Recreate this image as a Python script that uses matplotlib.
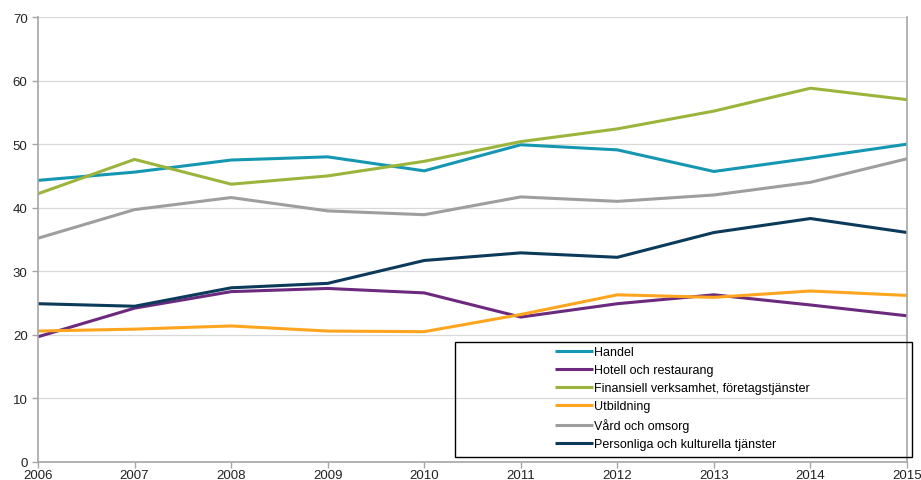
import matplotlib.pyplot as plt
from matplotlib.patches import Rectangle

plt.rcParams['font.family'] = ['Liberation Sans', 'DejaVu Sans']

years = [2006, 2007, 2008, 2009, 2010, 2011, 2012, 2013, 2014, 2015]

handel = [44.3, 45.6, 47.5, 48.0, 45.8, 49.9, 49.1, 45.7, 47.8, 50.0]
hotell = [19.7, 24.2, 26.8, 27.3, 26.6, 22.8, 24.9, 26.3, 24.7, 23.0]
finans = [42.2, 47.6, 43.7, 45.0, 47.3, 50.4, 52.4, 55.2, 58.8, 57.0]
utbildning = [20.6, 20.9, 21.4, 20.6, 20.5, 23.2, 26.3, 25.9, 26.9, 26.2]
vard = [35.2, 39.7, 41.6, 39.5, 38.9, 41.7, 41.0, 42.0, 44.0, 47.7]
personliga = [24.9, 24.5, 27.4, 28.1, 31.7, 32.9, 32.2, 36.1, 38.3, 36.1]

series = [
    ('Handel', handel, '#1597B2'),
    ('Hotell och restaurang', hotell, '#6B2A7E'),
    ('Finansiell verksamhet, företagstjänster', finans, '#9BB53C'),
    ('Utbildning', utbildning, '#FDA51E'),
    ('Vård och omsorg', vard, '#9E9E9E'),
    ('Personliga och kulturella tjänster', personliga, '#0B3A5A'),
]

fig = plt.figure(figsize=(9.21, 4.81), dpi=100)
ax = fig.add_axes([38/921, 18/481, (907-38)/921, (463-18)/481])

for name, vals, col in series:
    ax.plot(years, vals, color=col, lw=2.2, label=name, solid_capstyle='butt')

ax.set_xlim(2006, 2015)
ax.set_ylim(0, 70)
ax.set_xticks(years)
ax.set_yticks(range(0, 71, 10))
ax.grid(axis='y', color='#D9D9D9', lw=0.9)
ax.set_axisbelow(True)
for s in ['left', 'right', 'bottom']:
    ax.spines[s].set_color('#A6A6A6')
    ax.spines[s].set_linewidth(1.2)
ax.spines['top'].set_visible(False)
ax.tick_params(axis='both', colors='#A6A6A6', labelcolor='#222222',
               labelsize=9.5, length=4, width=1)
ax.tick_params(axis='x', pad=1)

# legend box
fig.patches.append(Rectangle((455/921, (481-458)/481), (912-455)/921, (458-343)/481,
                             transform=fig.transFigure, fill=False,
                             edgecolor='black', lw=1))
fig.legend(loc='upper left', bbox_to_anchor=(555/921, (481-347)/481),
           frameon=False, fontsize=9, handlelength=3.0, handletextpad=0.1,
           labelspacing=0.48, borderaxespad=0, borderpad=0)

fig.savefig('out.png', dpi=100)
